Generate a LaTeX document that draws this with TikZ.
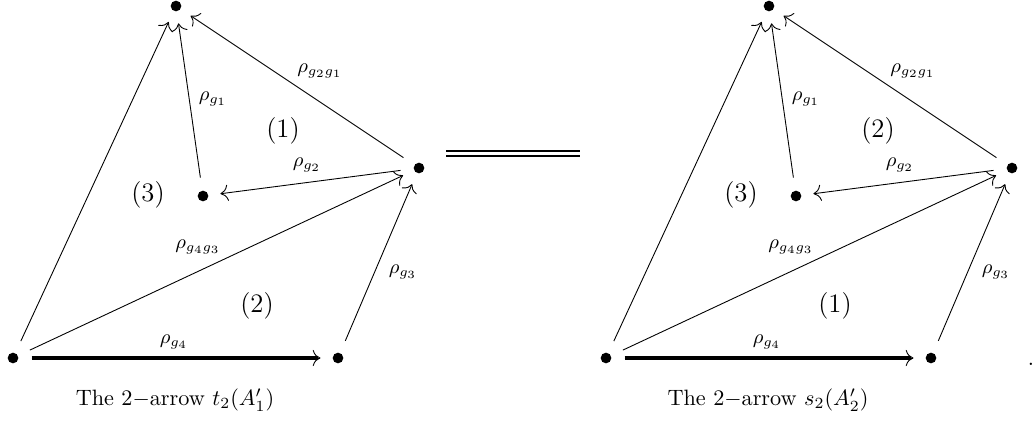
\documentclass[tikz,border=0pt]{standalone}
\usetikzlibrary{arrows.meta}
\begin{document}
\begin{tikzpicture}[x=0.45pt,y=-0.45pt,
  vert/.style={circle,fill,inner sep=0pt,minimum size=4.8pt},
  arr/.style={-{To[scale=1.4]},shorten >=5.3pt,shorten <=5.8pt},
  lbl/.style={font=\small},
  reg/.style={font=\large}]
\useasboundingbox (0,0) rectangle (1034,422);
\foreach \s/\i/\ra/\rb/\rc/\rx/\ux/\cpt in {0/1/1/3/2/257/283/{t_2(A'_1)},593/2/2/3/1/242/285/{s_2(A'_2)}} {
\begin{scope}[xshift=\s*0.45pt]
\node[vert] (t\i) at (176,6) {}; \node[vert] (c\i) at (203,196) {};
\node[vert] (r\i) at (419,168) {}; \node[vert] (a\i) at (13,358) {};
\node[vert] (b\i) at (338,358) {};
\draw[arr] (a\i)--(t\i); \draw[arr] (c\i)--(t\i); \draw[arr] (r\i)--(t\i);
\draw[arr] (r\i)--(c\i); \draw[arr] (a\i)--(r\i); \draw[arr] (b\i)--(r\i);
\draw[arr] (a\i)--(b\i);
\draw[line width=1.5pt,shorten <=5.8pt,shorten >=6.5pt] (a\i)--(b\i);
\node[lbl] (l21\i) at (320,71) {$\rho_{g_2g_1}$}; \node[lbl] (l1\i) at (213,99) {$\rho_{g_1}$};
\node[lbl] (l2\i) at (307,165) {$\rho_{g_2}$}; \node[lbl] (l43\i) at (198,247) {$\rho_{g_4g_3}$};
\node[lbl] (l3\i) at (403,272) {$\rho_{g_3}$}; \node[lbl] (l4\i) at (174,342) {$\rho_{g_4}$};
\node[reg] (ra\i) at (\ux,131) {(\ra)}; \node[reg] (rb\i) at (148,195) {(\rb)};
\node[reg] (rc\i) at (\rx,306) {(\rc)};
\node (cap\i) at (175,400) {The 2$-$arrow $\cpt$};
\end{scope}}
\coordinate (eqa) at (446,153.5); \coordinate (eqb) at (580,153.5);
\draw[double,double distance=1.5pt,line width=0.9pt] (eqa)--(eqb);
\node (dot) at (1031,364) {.};
\end{tikzpicture}
\end{document}
